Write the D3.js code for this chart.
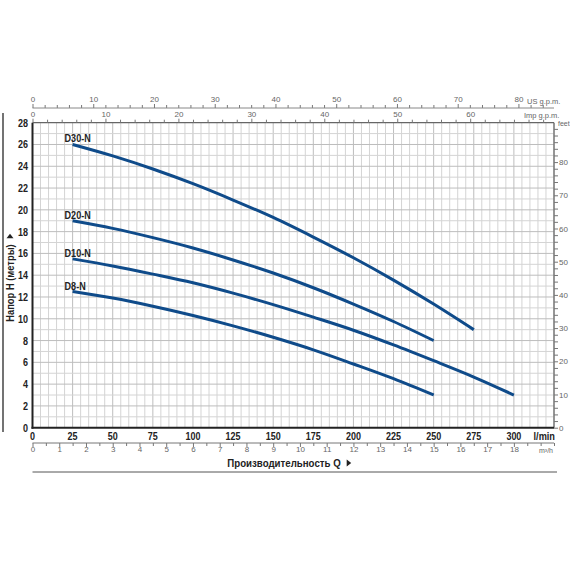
<!DOCTYPE html>
<html><head><meta charset="utf-8">
<script src="https://cdn.jsdelivr.net/npm/d3@7/dist/d3.min.js"></script>
<style>body{margin:0;background:#fff}svg{display:block}</style>
</head><body>
<svg id="c" width="570" height="570"></svg>
<script>
// Flow Q (l/min) sample points
const flowD30 = [25, 50, 75, 100, 125, 150, 175, 200, 225, 250, 275];
const headD30 = [26, 24.95, 23.75, 22.4, 20.9, 19.3, 17.5, 15.6, 13.55, 11.35, 9];
const flowD20 = [25, 50, 75, 100, 125, 150, 175, 200, 225, 250];
const headD20 = [19, 18.3, 17.45, 16.5, 15.4, 14.2, 12.85, 11.35, 9.75, 8];
const flowD10 = [25, 50, 75, 100, 125, 150, 175, 200, 225, 250, 275, 300];
const headD10 = [15.5, 14.85, 14.1, 13.3, 12.35, 11.3, 10.15, 8.95, 7.6, 6.15, 4.65, 3];
const flowD8 = [25, 50, 75, 100, 125, 150, 175, 200, 225, 250];
const headD8 = [12.5, 11.9, 11.15, 10.3, 9.35, 8.3, 7.15, 5.85, 4.5, 3];
const seriesNames = ["D30-N", "D20-N", "D10-N", "D8-N"];
const yTicks = [0, 2, 4, 6, 8, 10, 12, 14, 16, 18, 20, 22, 24, 26, 28];
const xTicks = [0, 25, 50, 75, 100, 125, 150, 175, 200, 225, 250, 275, 300];
const m3hTicks = [0, 1, 2, 3, 4, 5, 6, 7, 8, 9, 10, 11, 12, 13, 14, 15, 16, 17, 18];
const usTicks = [0, 10, 20, 30, 40, 50, 60, 70, 80];
const impTicks = [0, 10, 20, 30, 40, 50, 60];
const feetTicks = [0, 10, 20, 30, 40, 50, 60, 70, 80];

const svg = d3.select("#c");
const L = 32.5, R = 554, T = 122.7, B = 427.7;
const qMax = 325;
const x = d3.scaleLinear().domain([0, qMax]).range([L, R]);
const y = d3.scaleLinear().domain([0, 28]).range([B, T]);
const xUS = d3.scaleLinear().domain([0, qMax / 3.78541]).range([L, R]);
const xImp = d3.scaleLinear().domain([0, qMax / 4.54609]).range([L, R]);
const xM3 = d3.scaleLinear().domain([0, qMax * 0.06]).range([L, R]);
const yFt = d3.scaleLinear().domain([0, 28 * 3.28084]).range([B, T]);
const boldFont = "'Liberation Sans',Arial,sans-serif";
const lightFont = "'Liberation Sans',Arial,sans-serif";

function condense(sel, f) {
  sel.each(function () {
    const w = this.getComputedTextLength();
    d3.select(this).attr("textLength", w * f).attr("lengthAdjust", "spacingAndGlyphs");
  });
  return sel;
}

// grid
const g = svg.append("g");
g.selectAll("line.v").data(d3.range(5, qMax + 0.1, 5)).join("line")
  .attr("x1", d => x(d)).attr("x2", d => x(d)).attr("y1", T).attr("y2", B)
  .attr("stroke", d => d % 25 === 0 ? "#bdbdbd" : "#d4d4d4").attr("stroke-width", 1);
g.selectAll("line.h").data(d3.range(1, 28, 1)).join("line")
  .attr("y1", d => y(d)).attr("y2", d => y(d)).attr("x1", L).attr("x2", R)
  .attr("stroke", d => d % 2 === 0 ? "#bdbdbd" : "#d4d4d4").attr("stroke-width", 1);

// frame
svg.append("line").attr("x1", L).attr("x2", R).attr("y1", T).attr("y2", T).attr("stroke", "#666").attr("stroke-width", 1.2);
svg.append("line").attr("x1", R).attr("x2", R).attr("y1", T).attr("y2", B).attr("stroke", "#666").attr("stroke-width", 1.2);
svg.append("line").attr("x1", L).attr("x2", L).attr("y1", T).attr("y2", B + 1).attr("stroke", "#222").attr("stroke-width", 2);
svg.append("line").attr("x1", L - 1).attr("x2", R).attr("y1", B).attr("y2", B).attr("stroke", "#222").attr("stroke-width", 2);
// outer left border line and bottom rule
svg.append("line").attr("x1", 3).attr("x2", 3).attr("y1", 113).attr("y2", 432).attr("stroke", "#444").attr("stroke-width", 1.5);
svg.append("line").attr("x1", L).attr("x2", R + 3).attr("y1", 472).attr("y2", 472).attr("stroke", "#555").attr("stroke-width", 1);

// y axis labels
condense(svg.append("g").selectAll("text").data(yTicks).join("text")
  .attr("x", 28).attr("y", d => y(d) + 4).attr("text-anchor", "end")
  .attr("font-family", boldFont).attr("font-weight", "bold").attr("font-size", 11.5).attr("fill", "#222")
  .text(d => d), 0.78);
// x axis labels
condense(svg.append("g").selectAll("text").data(xTicks).join("text")
  .attr("x", d => x(d)).attr("y", 440).attr("text-anchor", "middle")
  .attr("font-family", boldFont).attr("font-weight", "bold").attr("font-size", 11.5).attr("fill", "#222")
  .text(d => d), 0.78);
condense(svg.append("text").attr("x", 555).attr("y", 440).attr("text-anchor", "end")
  .attr("font-family", boldFont).attr("font-weight", "bold").attr("font-size", 11.5).attr("fill", "#222").text("l/min"), 0.8);

// axis helper with minor + major ticks
function minorMajor(sel, scale, majors, step, maxV, orient, sizeMaj, sizeMin) {
  const minors = d3.range(0, maxV + 0.001, step).filter(v => !majors.includes(v));
  const axMin = orient(scale).tickValues(minors).tickSize(sizeMin).tickFormat("");
  const axMaj = orient(scale).tickValues(majors).tickSize(sizeMaj).tickFormat(d => d);
  sel.append("g").call(axMin).call(s => s.select(".domain").remove());
  return sel.append("g").call(axMaj);
}
// m3/h axis
const m3g = svg.append("g").attr("transform", "translate(0,443)");
minorMajor(m3g, xM3, m3hTicks, 0.5, 19.5, d3.axisBottom, 4, 3);
m3g.selectAll(".domain").attr("stroke", "#777").attr("d", `M${L},0H${R}`);
m3g.selectAll(".tick line").attr("stroke", "#777");
m3g.selectAll("text").attr("font-family", lightFont).attr("font-size", 8).attr("fill", "#666").attr("dy", "0.3em");
svg.append("text").attr("x", 546).attr("y", 453).attr("text-anchor", "middle")
  .attr("font-family", lightFont).attr("font-size", 7).attr("fill", "#666").text("m³/h");

// US gpm axis
const usg = svg.append("g").attr("transform", "translate(0,108)");
minorMajor(usg, xUS, usTicks, 2, 85.8, d3.axisTop, 4, 3);
usg.selectAll(".domain").attr("stroke", "#888").attr("d", `M${L},0H${R}`);
usg.selectAll(".tick line").attr("stroke", "#777");
usg.selectAll("text").attr("font-family", lightFont).attr("font-size", 8).attr("fill", "#666").attr("dy", "0.1em");
svg.append("text").attr("x", 527).attr("y", 104).attr("text-anchor", "start")
  .attr("font-family", lightFont).attr("font-size", 7.5).attr("fill", "#666").text("US g.p.m.");

// Imp gpm axis
const impg = svg.append("g").attr("transform", `translate(0,${T})`);
minorMajor(impg, xImp, impTicks, 2, 71.4, d3.axisTop, 4, 3);
impg.selectAll(".domain").remove();
impg.selectAll(".tick line").attr("stroke", "#777");
impg.selectAll("text").attr("font-family", lightFont).attr("font-size", 8).attr("fill", "#666").attr("dy", "0.1em");
svg.append("text").attr("x", 524).attr("y", 118).attr("text-anchor", "start")
  .attr("font-family", lightFont).attr("font-size", 7.5).attr("fill", "#666").text("Imp g.p.m.");

// feet axis
const ftg = svg.append("g").attr("transform", `translate(${R},0)`);
minorMajor(ftg, yFt, feetTicks, 2, 91, d3.axisRight, 4, 4);
ftg.selectAll(".domain").remove();
ftg.selectAll(".tick line").attr("stroke", "#777");
ftg.selectAll("text").attr("font-family", lightFont).attr("font-size", 8).attr("fill", "#666").attr("x", 5);
svg.append("text").attr("x", 558).attr("y", 126).attr("text-anchor", "start")
  .attr("font-family", lightFont).attr("font-size", 7).attr("fill", "#666").text("feet");

// curves
const flows = [flowD30, flowD20, flowD10, flowD8];
const heads = [headD30, headD20, headD10, headD8];
const line = d3.line().x(d => x(d[0])).y(d => y(d[1])).curve(d3.curveMonotoneX);
seriesNames.forEach((name, i) => {
  const pts = flows[i].map((q, j) => [q, heads[i][j]]);
  svg.append("path").attr("d", line(pts)).attr("fill", "none")
    .attr("stroke", "#0f4b8a").attr("stroke-width", 3).attr("stroke-linecap", "butt");
  condense(svg.append("text").attr("x", x(flows[i][0]) - 8).attr("y", y(heads[i][0]) - 2)
    .attr("font-family", boldFont).attr("font-weight", "bold").attr("font-size", 11).attr("fill", "#222")
    .text(name), 0.82);
});

// axis titles
const xt = condense(svg.append("text").attr("x", 284).attr("y", 467).attr("text-anchor", "middle")
  .attr("font-family", boldFont).attr("font-weight", "bold").attr("font-size", 11).attr("fill", "#222")
  .text("Производительность Q"), 0.88);
const xtEnd = 284 + (+xt.attr("textLength")) / 2;
svg.append("path").attr("d", `M${xtEnd + 6},459.5 L${xtEnd + 10.5},463 L${xtEnd + 6},466.5 Z`).attr("fill", "#222");

const yg = svg.append("g").attr("transform", "translate(14,283) rotate(-90)");
const yt = condense(yg.append("text").attr("x", 0).attr("y", 0).attr("text-anchor", "middle")
  .attr("font-family", boldFont).attr("font-weight", "bold").attr("font-size", 11).attr("fill", "#222")
  .text("Напор H (метры)"), 0.85);
const ytEnd = (+yt.attr("textLength")) / 2;
yg.append("path").attr("d", `M${ytEnd + 6},-7.5 L${ytEnd + 10.5},-4 L${ytEnd + 6},-0.5 Z`).attr("fill", "#222");
</script>
</body></html>
